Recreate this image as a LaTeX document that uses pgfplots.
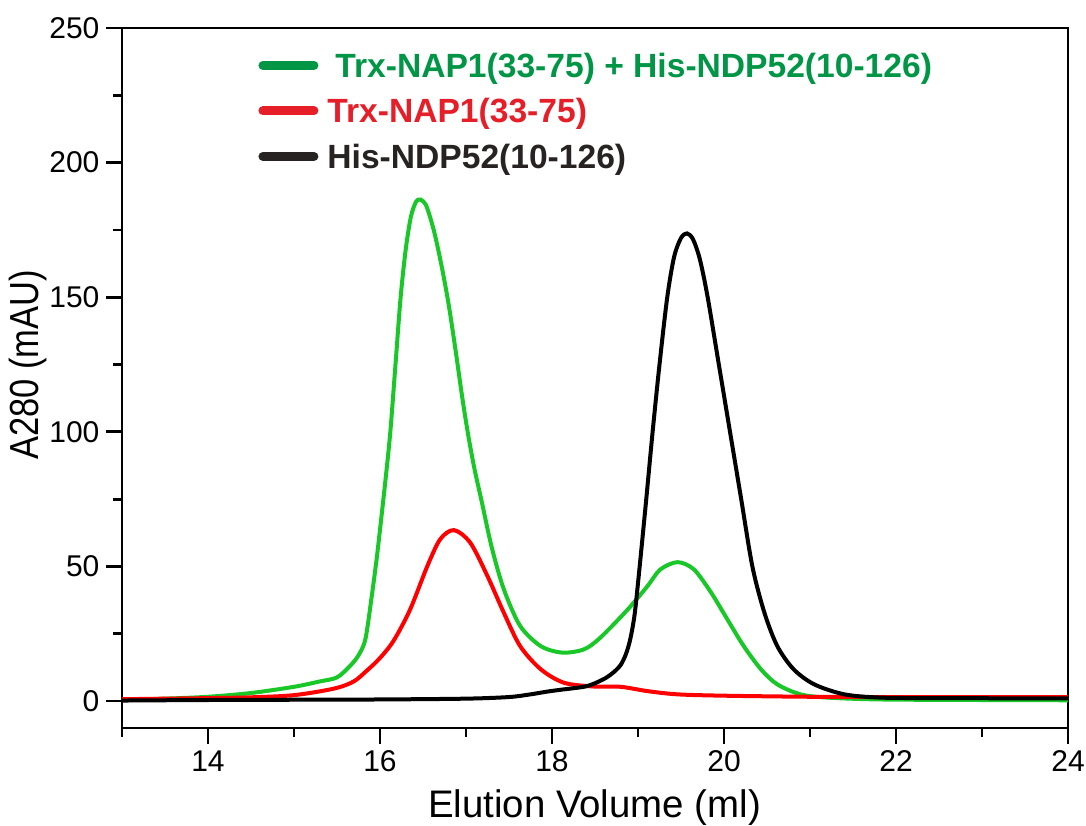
\documentclass[border=0pt]{standalone}
\usepackage{fontspec}
\setmainfont{Liberation Sans}
\usepackage{graphicx}
\usepackage{pgfplots}
\pgfplotsset{compat=1.18}
\definecolor{cgreen}{RGB}{25,200,40}
\definecolor{cred}{RGB}{255,0,0}
\definecolor{lgreen}{RGB}{0,150,70}
\definecolor{lred}{RGB}{230,30,40}
\definecolor{lblack}{RGB}{40,35,35}
\begin{document}
\begin{tikzpicture}
\begin{axis}[
  scale only axis, width=473pt, height=350pt,
  xmin=13, xmax=24, ymin=-10, ymax=250,
  xtick={14,16,...,24}, minor xtick={13,15,...,23},
  ytick={0,50,...,250}, minor ytick={25,75,...,225},
  tick align=outside, xtick pos=bottom, ytick pos=left,
  major tick length=7.75pt, minor tick length=4.25pt,
  every tick/.style={line width=1.4pt, black},
  axis line style={line width=1.4pt},
  /pgf/number format/assume math mode=true,
  ticklabel style={font=\fontsize{15}{18}\selectfont},
  xlabel={Elution Volume (ml)},
  xlabel style={at={(axis description cs:0.4995,0)}, anchor=base, yshift=-44.5pt, inner sep=0pt, font=\fontsize{19.2}{22}\selectfont},
  ylabel={\scalebox{0.85}[1]{A280 (mAU)}},
  ylabel style={at={(axis description cs:-0.0994,0.5186)}, anchor=center, inner sep=0pt, font=\fontsize{20.3}{24}\selectfont},
  legend style={at={(axis description cs:0.1438,0.9643)}, anchor=north west, draw=none, fill=none, inner sep=0pt, row sep=10.75pt, column sep=4.5pt,
    nodes={inner sep=0pt, text height=12pt, text depth=0pt, font=\fontsize{16.8}{20}\selectfont\bfseries}},
  legend cell align=left,
  legend image code/.code={\draw[#1] (2.25pt,0pt) -- (27.75pt,0pt);},
]
\addlegendimage{lgreen, line width=4.5pt, line cap=round}
\addlegendentry{\hspace{4pt}\textcolor{lgreen}{Trx-NAP1(33-75) + His-NDP52(10-126)}}
\addlegendimage{lred, line width=4.5pt, line cap=round}
\addlegendentry{\textcolor{lred}{Trx-NAP1(33-75)}}
\addlegendimage{lblack, line width=4.5pt, line cap=round}
\addlegendentry{\textcolor{lblack}{His-NDP52(10-126)}}

% Trx-NAP1(33-75) + His-NDP52(10-126)
\addplot[cgreen, line width=2pt, smooth, forget plot] coordinates {
(13.0,0.5) (13.5,0.9) (14.0,1.6) (14.5,3.0) (15.0,5.3) (15.3,7.3) (15.5,8.8)
(15.65,13) (15.75,17) (15.83,23) (15.90,38) (15.95,50) (15.98,58) (16.06,81)
(16.12,100) (16.18,125) (16.24,150) (16.30,168) (16.36,180) (16.42,185.5) (16.47,186.3)
(16.53,184.5) (16.58,180) (16.64,173) (16.72,161) (16.80,147) (16.88,130) (16.96,112)
(17.03,98) (17.10,86) (17.18,74.5) (17.30,57) (17.44,41.5) (17.63,27.9) (17.87,20.4)
(18.12,18) (18.37,19.2) (18.56,23.5) (18.88,34) (19.11,42.7) (19.26,48.9) (19.46,51.6)
(19.65,48.9) (19.85,40.3) (20.04,30.3) (20.23,20.4) (20.43,11.8) (20.62,6.2)
(20.89,2.5) (21.2,1.3) (21.82,0.6) (23,0.4) (24,0.3)
};
% Trx-NAP1(33-75)
\addplot[cred, line width=2pt, smooth, forget plot] coordinates {
(13.0,0.7) (14.0,1.1) (14.5,1.4) (15.0,2.2) (15.46,4.6) (15.69,7.2) (15.85,11.4)
(16.0,16.0) (16.16,22.5) (16.35,34) (16.55,50.1) (16.7,60.1) (16.86,63.5)
(17.05,58.8) (17.25,46.4) (17.44,32.8) (17.63,20.4) (17.87,11.8) (18.14,6.8)
(18.49,5.4) (18.8,5.3) (19.11,3.7) (19.46,2.5) (20.0,2.0) (21,1.6) (22,1.5) (24,1.5)
};
% His-NDP52(10-126)
\addplot[black, line width=2pt, smooth, forget plot] coordinates {
(13.0,0.2) (14.0,0.4) (15.0,0.5) (16.0,0.6) (17.0,0.9) (17.5,1.5) (17.75,2.5)
(17.94,3.5) (18.1,4.2) (18.37,5.3) (18.49,6.5) (18.62,8.5) (18.72,10.8) (18.80,13.5)
(18.86,17.5) (18.91,23) (18.96,32) (19.01,47) (19.09,73) (19.17,100) (19.25,125)
(19.34,150) (19.42,165) (19.50,172) (19.57,173.7) (19.64,171.5) (19.72,164)
(19.81,150) (19.94,125) (20.07,100) (20.20,75) (20.33,50) (20.47,32.8) (20.62,20.4)
(20.81,11.8) (21.05,6.2) (21.4,2.5) (21.82,1.3) (22.5,1.1) (24,1.0)
};
\end{axis}
\pgfresetboundingbox
\path (-61pt,-48.5pt) rectangle (482pt,364pt);
\end{tikzpicture}
\end{document}
